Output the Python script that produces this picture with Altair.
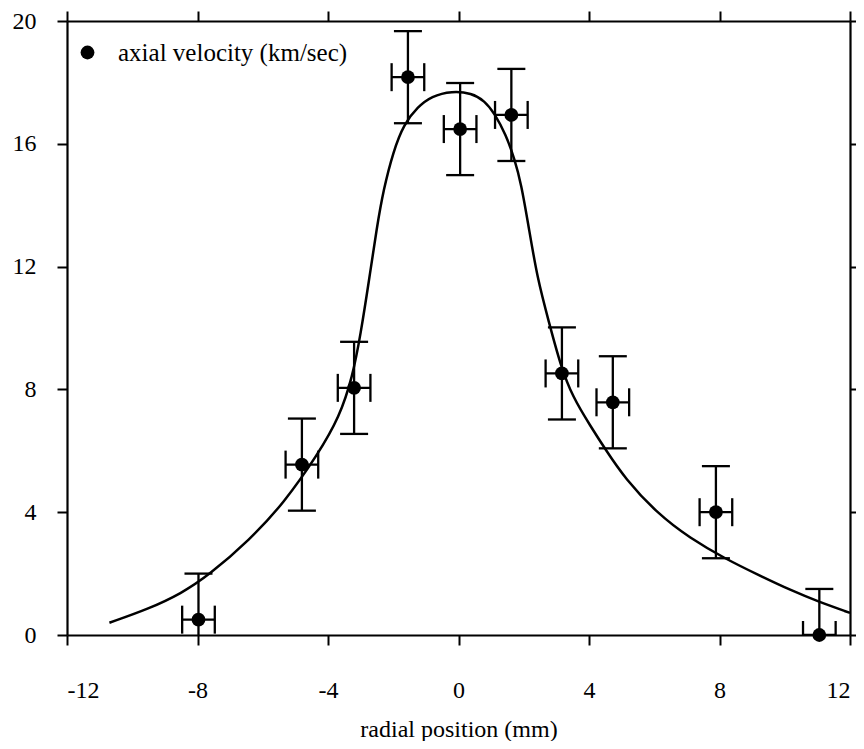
import altair as alt
import pandas as pd

# ---- data ----
series_name = "axial velocity (km/sec)"
pos = [-7.97, -4.8, -3.2, -1.55, 0.05, 1.62, 3.17, 4.73, 7.89, 11.06]
vel = [0.5, 5.55, 8.05, 18.17, 16.48, 16.94, 8.52, 7.58, 4.0, 0.0]
vel_err = [1.5, 1.5, 1.5, 1.5, 1.5, 1.5, 1.5, 1.5, 1.5, 1.5]
pos_err = [0.5, 0.5, 0.5, 0.5, 0.5, 0.5, 0.5, 0.5, 0.5, 0.5]

fit_x = [-10.7, -9.5, -8.5, -7.65, -6.4, -5.35, -4.3, -3.65, -3.25, -3.0, -2.75, -2.5,
         -2.3, -2.0, -1.67, -1.25, -0.83, -0.2, 0.4, 0.8, 1.1, 1.45, 1.72, 1.92, 2.15,
         2.42, 2.77, 3.12, 3.5, 4.05, 4.5, 5.1, 6.1, 7.1, 8.15, 9.2, 10.2, 11.0, 12.0]
fit_y = [0.4, 0.85, 1.35, 1.95, 3.1, 4.3, 5.9, 7.1, 8.4, 9.8, 11.5, 13.3,
         14.5, 15.75, 16.65, 17.2, 17.55, 17.72, 17.65, 17.4, 17.0, 16.3, 15.5, 14.7, 13.3,
         11.6, 10.2, 8.8, 7.75, 6.8, 6.05, 5.1, 3.95, 3.15, 2.5, 1.95, 1.45, 1.1, 0.72]

x_ticks = [-12, -8, -4, 0, 4, 8, 12]
y_ticks = [0, 4, 8, 12, 16, 20]

pts = pd.DataFrame({
    "pos": pos,
    "vel": vel,
    "vlo": [v - e for v, e in zip(vel, vel_err)],
    "vhi": [v + e for v, e in zip(vel, vel_err)],
    "xlo": [p - e for p, e in zip(pos, pos_err)],
    "xhi": [p + e for p, e in zip(pos, pos_err)],
    "series": [series_name] * len(pos),
})
fit = pd.DataFrame({"x": fit_x, "y": fit_y})

FONT = "Liberation Serif"
xs = alt.Scale(domain=[-12, 12], nice=False, zero=False)
ys = alt.Scale(domain=[0, 20], nice=False, zero=False)

axis_common = dict(
    grid=False, domainColor="black", domainWidth=2.2, tickColor="black",
    tickWidth=2, tickSize=10, labelFont=FONT, labelFontSize=24,
    labelColor="black", titleFont=FONT, titleFontSize=24, titleColor="black",
    titleFontWeight="normal", labelExpr="'' + datum.value",
)

x_bottom = alt.Axis(orient="bottom", values=x_ticks, labelPadding=33,
                    title="radial position (mm)", titleY=101,
                    titleBaseline="alphabetic", **axis_common)
y_left = alt.Axis(orient="left", values=y_ticks, labelPadding=21, title=None,
                  **axis_common)
x_top = alt.Axis(orient="top", values=x_ticks, labels=False, title=None, **axis_common)
y_right = alt.Axis(orient="right", values=y_ticks, labels=False, title=None, **axis_common)

LW = 2.3
base = alt.Chart(pts)

yerr = base.mark_rule(color="black", strokeWidth=LW, clip=True).encode(
    x=alt.X("pos:Q", scale=xs, axis=None),
    y=alt.Y("vlo:Q", scale=ys, axis=None),
    y2="vhi:Q",
)
xerr = base.mark_rule(color="black", strokeWidth=LW, clip=True).encode(
    x=alt.X("xlo:Q", scale=xs, axis=None),
    x2="xhi:Q",
    y=alt.Y("vel:Q", scale=ys, axis=None),
)
ycap_lo = base.mark_tick(color="black", orient="horizontal", size=28,
                         thickness=LW, clip=True, opacity=1).encode(
    x=alt.X("pos:Q", scale=xs, axis=None),
    y=alt.Y("vlo:Q", scale=ys, axis=None),
)
ycap_hi = base.mark_tick(color="black", orient="horizontal", size=28,
                         thickness=LW, clip=True, opacity=1).encode(
    x=alt.X("pos:Q", scale=xs, axis=None),
    y=alt.Y("vhi:Q", scale=ys, axis=None),
)
xcap_lo = base.mark_tick(color="black", orient="vertical", size=28,
                         thickness=LW, clip=True, opacity=1).encode(
    x=alt.X("xlo:Q", scale=xs, axis=None),
    y=alt.Y("vel:Q", scale=ys, axis=None),
)
xcap_hi = base.mark_tick(color="black", orient="vertical", size=28,
                         thickness=LW, clip=True, opacity=1).encode(
    x=alt.X("xhi:Q", scale=xs, axis=None),
    y=alt.Y("vel:Q", scale=ys, axis=None),
)

curve = alt.Chart(fit).mark_line(color="black", strokeWidth=2.5,
                                 interpolate="basis").encode(
    x=alt.X("x:Q", scale=xs, axis=x_top),
    y=alt.Y("y:Q", scale=ys, axis=y_right),
)

points = base.mark_circle(size=190, opacity=1).encode(
    x=alt.X("pos:Q", scale=xs, axis=x_bottom),
    y=alt.Y("vel:Q", scale=ys, axis=y_left),
    color=alt.Color(
        "series:N",
        scale=alt.Scale(domain=[series_name], range=["black"]),
        legend=alt.Legend(
            title=None, orient="none", legendX=8, legendY=19, padding=0,
            labelFont=FONT, labelFontSize=25, labelColor="black",
            labelOffset=18, symbolType="circle", symbolSize=190,
            symbolStrokeWidth=0, labelLimit=400,
        ),
    ),
)

chart = alt.layer(
    curve, yerr, xerr, ycap_lo, ycap_hi, xcap_lo, xcap_hi, points
).resolve_axis(
    x="independent", y="independent"
).properties(
    width=783, height=614,
    autosize=alt.AutoSizeParams(type="none"),
    padding={"left": 59, "top": 13, "right": 6, "bottom": 106},
).configure_view(
    stroke=None
).configure(
    background="white"
)

chart.save("out.html", embed_options={"renderer": "svg", "actions": False})
